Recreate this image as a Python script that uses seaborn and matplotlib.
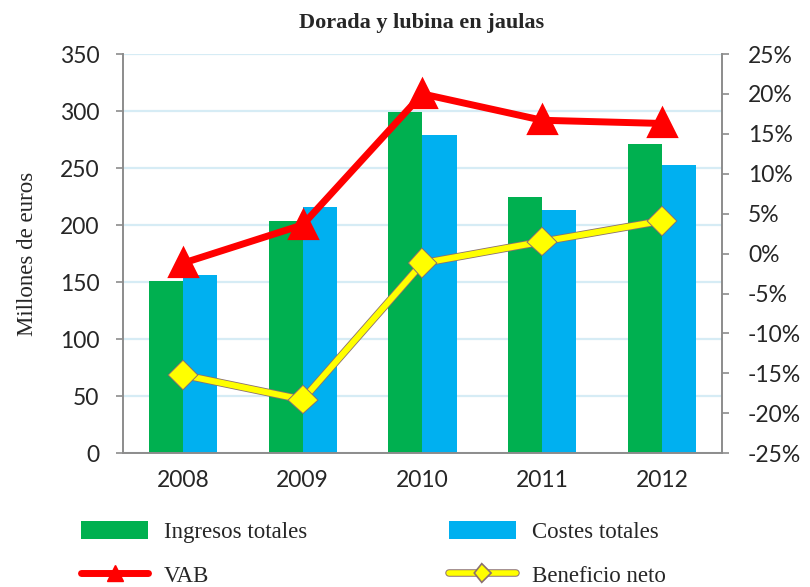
import numpy as np
import pandas as pd
import matplotlib.pyplot as plt
import matplotlib.patheffects as pe
from matplotlib.lines import Line2D
from matplotlib.patches import Patch
from matplotlib.ticker import FixedLocator, FuncFormatter
import seaborn as sns

years = ["2008", "2009", "2010", "2011", "2012"]
ingresos = [151, 204, 299, 225, 271]
costes = [156, 216, 279, 213, 253]
vab = [-1.2, 3.6, 20.0, 16.7, 16.3]
beneficio = [-15.2, -18.3, -1.2, 1.5, 4.1]

GREEN = "#00B050"
BLUE = "#00B0F0"
RED = "#FF0000"
YELLOW = "#FFFF00"
OUTLINE = "#8a7070"
AXCOL = "#8c8c8c"

sns.set_style("white")
plt.rcParams["font.family"] = ["Lato", "DejaVu Sans"]

bars = pd.DataFrame({
    "year": years * 2,
    "value": ingresos + costes,
    "serie": ["Ingresos totales"] * 5 + ["Costes totales"] * 5,
})

fig = plt.figure(figsize=(8.1, 5.87), dpi=100)
ax = fig.add_axes([0.152, 0.228, 0.739, 0.680])

sns.barplot(data=bars, x="year", y="value", hue="serie", palette=[GREEN, BLUE],
            width=0.57, gap=0, saturation=1, linewidth=0, ax=ax, legend=False)
ax.set_ylim(0, 350)
ax.set_yticks(np.arange(0, 351, 50))
ax.set_xlim(-0.5, 4.5)
ax.set_axisbelow(True)
ax.yaxis.grid(True, color="#d6ecf5", linewidth=1.6)
ax.set_xlabel("")
ax.set_ylabel("Millones de euros", family="Liberation Serif", fontsize=16.5, labelpad=16)

# lineas en el eje de porcentajes
ax2 = ax.twinx()
sns.pointplot(x=years, y=vab, ax=ax2, color=RED, marker="^", markersize=17,
              linewidth=5, errorbar=None)
sns.pointplot(x=years, y=beneficio, ax=ax2, color=YELLOW, marker="D", markersize=10,
              linewidth=4.4, errorbar=None)
yl = ax2.lines[-1]
yl.set_markeredgecolor(YELLOW)
yl.set_markeredgewidth(4.2)
yl.set_path_effects([pe.Stroke(linewidth=5.6, foreground=OUTLINE), pe.Normal()])
ax2.set_ylim(-25, 25)
ax2.set_yticks(np.arange(-25, 26, 5))
ax2.yaxis.set_major_formatter(FuncFormatter(lambda v, p: f"{v:.0f}%"))
ax2.set_xlim(-0.5, 4.5)
ax2.set_ylabel("")
ax2.set_xlabel("")

for a in (ax, ax2):
    for s in a.spines.values():
        s.set_color(AXCOL)
        s.set_linewidth(1.4)
    a.spines["top"].set_visible(False)

ax.spines["right"].set_visible(False)
ax2.spines["left"].set_visible(False)
ax2.spines["bottom"].set_visible(False)

ax.tick_params(axis="y", direction="out", length=5, color=AXCOL, width=1.2,
               labelsize=16.5, pad=12)
ax2.tick_params(axis="y", direction="out", length=5, color=AXCOL, width=1.2,
                labelsize=16.5, pad=14)
ax.tick_params(axis="x", which="major", length=0, labelsize=16.5, pad=12)
ax.xaxis.set_minor_locator(FixedLocator(np.arange(-0.5, 4.6, 1)))
ax.tick_params(axis="x", which="minor", direction="out", length=6, color=AXCOL, width=1.2)

fig.text(0.52, 0.960, "Dorada y lubina en jaulas", ha="center", va="center",
         family="Liberation Serif", fontweight="bold", fontsize=16)

handles = [
    Patch(facecolor=GREEN, edgecolor="none"),
    Line2D([], [], color=RED, linewidth=5, marker="^", markersize=11),
    Patch(facecolor=BLUE, edgecolor="none"),
    Line2D([], [], color=YELLOW, linewidth=4, marker="D", markersize=5,
           markeredgecolor=YELLOW, markeredgewidth=3,
           path_effects=[pe.Stroke(linewidth=5.4, foreground=OUTLINE), pe.Normal()]),
]
labels = ["Ingresos totales", "VAB", "Costes totales", "Beneficio neto"]
fig.legend(handles, labels, ncol=2, loc="upper left", bbox_to_anchor=(0.075, 0.147),
           frameon=False, prop={"family": "Liberation Serif", "size": 16.5},
           handlelength=2.9, handleheight=0.8, handletextpad=0.7,
           columnspacing=6.2, labelspacing=0.95)

fig.savefig("out.png", dpi=100)
